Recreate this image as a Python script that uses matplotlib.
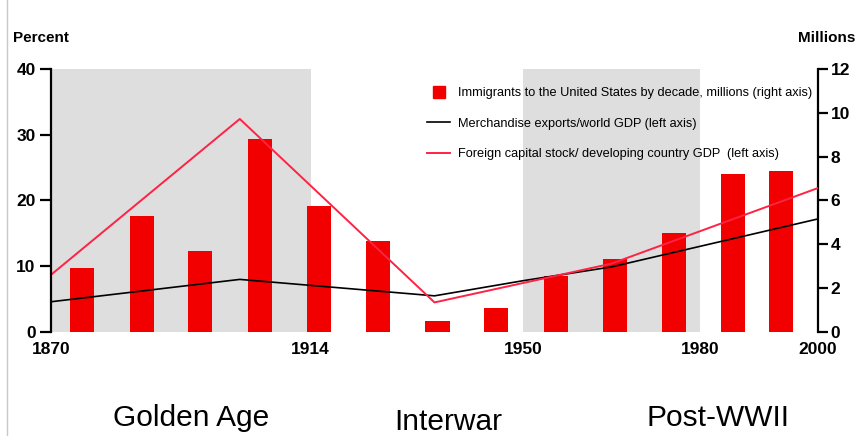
import matplotlib
matplotlib.use('Agg')
import matplotlib.pyplot as plt
from matplotlib.lines import Line2D

plt.rcParams['font.family'] = ['Liberation Sans', 'DejaVu Sans']

# Inmigrantes a EE.UU. por decada (millones, eje derecho)
bar_years = [1875.3, 1885.4, 1895.3, 1905.4, 1915.4, 1925.4, 1935.5,
             1945.4, 1955.6, 1965.6, 1975.6, 1985.6, 1993.7]
immigrants = [2.9, 5.3, 3.7, 8.8, 5.75, 4.15, 0.5, 1.1, 2.55, 3.35, 4.5, 7.2, 7.35]

# Exportaciones / PIB mundial (%, eje izquierdo)
exp_years = [1870, 1902, 1935, 1950, 1965, 2000]
exports = [4.6, 8.0, 5.5, 7.8, 9.9, 17.2]

# Stock de capital extranjero / PIB paises en desarrollo (%, eje izquierdo)
cap_years = [1870, 1902, 1935, 1965, 2000]
capital = [8.7, 32.4, 4.5, 10.4, 21.9]

periods = [(1870, 1914), (1950, 1980)]
xticks = [1870, 1914, 1950, 1980, 2000]
era_labels = ['Golden Age', 'Interwar', 'Post-WWII']
era_x = [191, 448, 718]
era_y = [418, 422, 418]

red = '#f20000'
red_line = '#ff2244'

fig = plt.figure(figsize=(8.57, 4.36), dpi=100)
W, H = 857, 436
ax2 = fig.add_axes([51 / W, 1 - 332 / H, (818 - 51) / W, 263 / H])
ax = ax2.twinx()

# sombreado y barras (eje derecho, debajo)
for a, b in periods:
    ax2.axvspan(a, b, color='#dedede', lw=0, zorder=0)
ax2.bar(bar_years, immigrants, width=4.1, color=red, zorder=1)
ax2.set_ylim(0, 12)
ax2.set_yticks(range(0, 13, 2))
ax2.yaxis.tick_right()

# lineas (eje izquierdo, encima)
ax.plot(exp_years, exports, color='black', lw=1.2)
ax.plot(cap_years, capital, color=red_line, lw=1.4)
ax.set_ylim(0, 40)
ax.set_yticks(range(0, 41, 10))
ax.yaxis.tick_left()
ax.set_xlim(1870, 2000)
ax2.set_xlim(1870, 2000)
ax2.set_xticks(xticks)
ax.set_xticks(xticks)

for a in (ax, ax2):
    for s in ['top', 'bottom']:
        a.spines[s].set_visible(False)
ax.spines['right'].set_visible(False)
ax2.spines['left'].set_visible(False)
ax.spines['left'].set_linewidth(1.6)
ax2.spines['right'].set_linewidth(1.6)

ax.tick_params(axis='y', direction='out', length=8, width=1.6, labelsize=12.5, pad=3)
ax2.tick_params(axis='y', direction='out', length=7, width=1.6, labelsize=12.5, pad=2)
ax2.tick_params(axis='x', length=0, labelsize=12.5, pad=7)
ax.tick_params(axis='x', length=0, labelbottom=False)
for lab in ax.get_yticklabels() + ax2.get_yticklabels() + ax2.get_xticklabels():
    lab.set_fontweight('bold')

fig.text(13 / W, 1 - 38 / H, 'Percent', fontsize=11, fontweight='bold', va='center', ha='left')
fig.text(855 / W, 1 - 38 / H, 'Millions', fontsize=11, fontweight='bold', va='center', ha='right')

handles = [
    Line2D([], [], marker='s', color=red, linestyle='none', markersize=8),
    Line2D([], [], color='black', lw=1.2),
    Line2D([], [], color=red_line, lw=1.4),
]
labels = [
    'Immigrants to the United States by decade, millions (right axis)',
    'Merchandise exports/world GDP (left axis)',
    'Foreign capital stock/ developing country GDP  (left axis)',
]
ax.legend(handles, labels, frameon=False, fontsize=9.2, loc='upper left',
          bbox_to_anchor=(421 / W, 1 - 81 / H), bbox_transform=fig.transFigure,
          handlelength=1.8, handletextpad=0.6, labelspacing=1.45, borderpad=0)

for t, x, y in zip(era_labels, era_x, era_y):
    fig.text(x / W, 1 - y / H, t, fontsize=21.5, ha='center', va='center')

fig.add_artist(Line2D([7 / W, 7 / W], [0, 1], color='#c8c8c8', lw=1))

fig.savefig('out.png', dpi=100)
